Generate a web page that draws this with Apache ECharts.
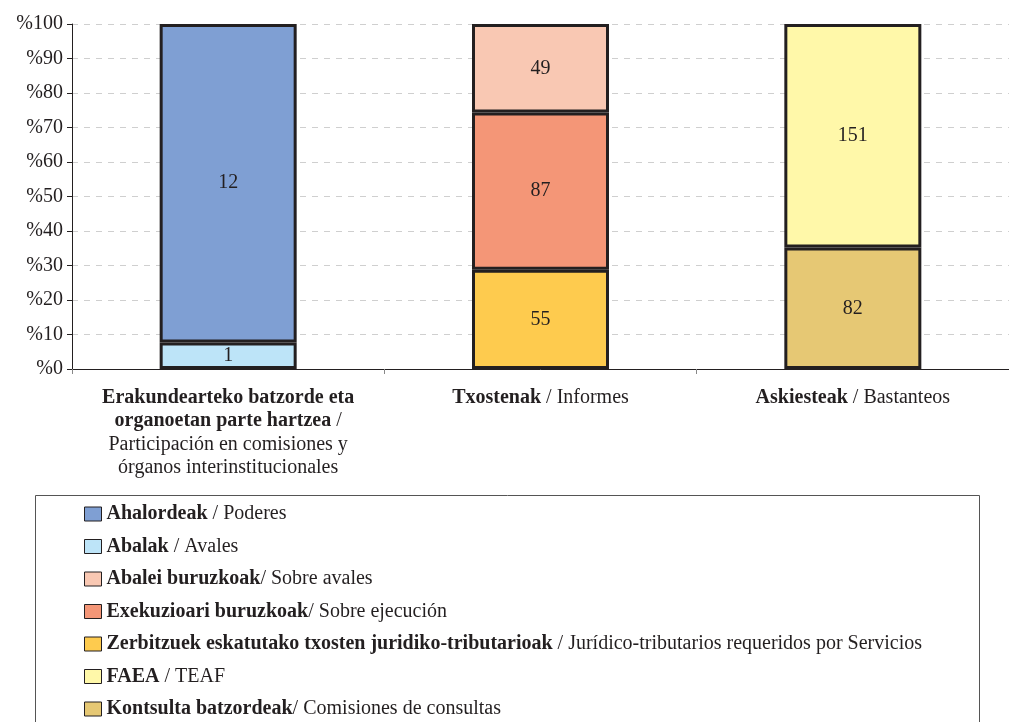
<!DOCTYPE html>
<html>
<head>
<meta charset="utf-8">
<script src="https://cdn.jsdelivr.net/npm/echarts@6/dist/echarts.min.js"></script>
<style>html,body{margin:0;padding:0;background:#fff;}#c{width:1009px;height:722px;}</style>
</head>
<body>
<div id="c"></div>
<script>
const categories = [
  '{b|Erakundearteko batzorde eta}\n{b|organoetan parte hartzea} {r|/}\n{r|Participación en comisiones y}\n{r|órganos interinstitucionales}',
  '{b|Txostenak} {r|/ Informes}',
  '{b|Askiesteak} {r|/ Bastanteos}'
];
const yTicks = [0, 10, 20, 30, 40, 50, 60, 70, 80, 90, 100];
// series in stacking order (bottom to top)
const seriesNames = ['Abalak', 'Ahalordeak', 'Zerbitzuek', 'Exekuzioari', 'Abalei', 'Kontsulta', 'FAEA'];
const abalak      = [1, null, null];
const ahalordeak  = [12, null, null];
const zerbitzuek  = [null, 55, null];
const exekuzioari = [null, 87, null];
const abalei      = [null, 49, null];
const kontsulta   = [null, null, 82];
const faea        = [null, null, 151];
const legendOrder = ['Ahalordeak', 'Abalak', 'Abalei', 'Exekuzioari', 'Zerbitzuek', 'FAEA', 'Kontsulta'];
const legendLabels = {
  Ahalordeak: '{b|Ahalordeak} / Poderes',
  Abalak: '{b|Abalak} / Avales',
  Abalei: '{b|Abalei buruzkoak}/ Sobre avales',
  Exekuzioari: '{b|Exekuzioari buruzkoak}/ Sobre ejecución',
  Zerbitzuek: '{b|Zerbitzuek eskatutako txosten juridiko-tributarioak} / Jurídico-tributarios requeridos por Servicios',
  FAEA: '{b|FAEA} / TEAF',
  Kontsulta: '{b|Kontsulta batzordeak}/ Comisiones de consultas'
};
const colors = {
  Abalak: '#bde4f8', Ahalordeak: '#7f9fd3', Zerbitzuek: '#fecb4e', Exekuzioari: '#f49677',
  Abalei: '#f9c8b3', Kontsulta: '#e6c874', FAEA: '#fff8a9'
};
const rawData = [abalak, ahalordeak, zerbitzuek, exekuzioari, abalei, kontsulta, faea];

const totals = categories.map((_, i) => rawData.reduce((s, arr) => s + (arr[i] || 0), 0));
const FONT = '"Liberation Serif", "Times New Roman", serif';
const TXT = '#231f20';
const FS = 20;

const series = seriesNames.map((name, k) => ({
  name: name,
  type: 'bar',
  stack: 'total',
  barWidth: 137,
  data: rawData[k].map((v, i) => v == null ? null : { value: v / totals[i] * 100, raw: v }),
  itemStyle: { color: colors[name], borderColor: '#231f20', borderWidth: 3 },
  label: {
    show: true, position: 'inside', color: TXT, fontFamily: FONT, fontSize: FS,
    formatter: p => p.data ? String(p.data.raw) : ''
  }
}));

const chart = echarts.init(document.getElementById('c'));
chart.setOption({
  animation: false,
  backgroundColor: '#fff',
  grid: { left: 72, width: 946, top: 24, height: 345, containLabel: false },
  xAxis: {
    type: 'category',
    data: categories,
    axisLine: { lineStyle: { color: '#231f20', width: 1 } },
    axisTick: { show: true, length: 5, lineStyle: { color: '#888' } },
    axisLabel: {
      interval: 0, margin: 17, color: TXT, fontFamily: FONT, fontSize: FS, lineHeight: 23.3, align: 'center',
      rich: {
        b: { fontWeight: 'bold', fontFamily: FONT, fontSize: FS, color: TXT, lineHeight: 23.3 },
        r: { fontFamily: FONT, fontSize: FS, color: TXT, lineHeight: 23.3 }
      }
    }
  },
  yAxis: {
    type: 'value', min: 0, max: 100, interval: 10,
    axisLine: { show: true, lineStyle: { color: '#231f20', width: 1 } },
    axisTick: { show: true, length: 5, lineStyle: { color: '#231f20' } },
    axisLabel: { color: TXT, fontFamily: FONT, fontSize: FS, margin: 9, formatter: v => '%' + v },
    splitLine: { show: true, lineStyle: { color: '#cfcfcf', type: [6, 6], width: 1 } }
  },
  legend: {
    data: legendOrder,
    orient: 'vertical',
    left: 84, top: 504, padding: 0,
    itemWidth: 17, itemHeight: 14, itemGap: 12.5,
    icon: 'rect',
    itemStyle: { borderColor: '#231f20', borderWidth: 1 },
    textStyle: {
      color: TXT, fontFamily: FONT, fontSize: FS,
      rich: { b: { fontWeight: 'bold', fontFamily: FONT, fontSize: FS, color: TXT } }
    },
    formatter: n => legendLabels[n],
    selectedMode: false
  },
  graphic: [{
    type: 'rect', silent: true,
    shape: { x: 35.5, y: 495.5, width: 944, height: 300 },
    style: { fill: 'none', stroke: '#555', lineWidth: 1 }
  }],
  series: series
});
</script>
</body>
</html>
